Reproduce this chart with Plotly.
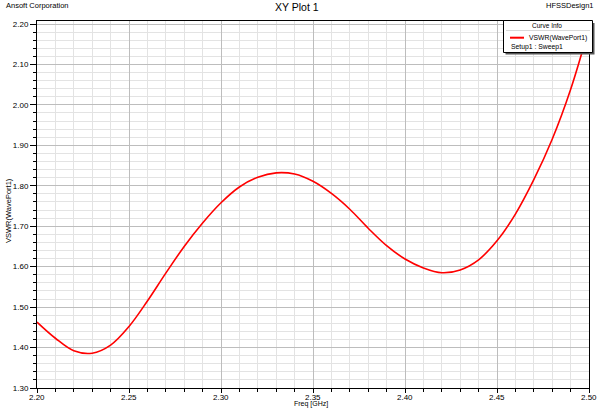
import plotly.graph_objects as go

freq = [2.20, 2.21, 2.22, 2.23, 2.24, 2.25, 2.26, 2.27, 2.28, 2.29, 2.30,
        2.31, 2.32, 2.33, 2.34, 2.35, 2.36, 2.37, 2.38, 2.39, 2.40,
        2.41, 2.42, 2.43, 2.44, 2.45, 2.46, 2.47, 2.48, 2.49, 2.50]
vswr = [1.463, 1.423, 1.392, 1.386, 1.406, 1.452, 1.515, 1.584, 1.650, 1.708, 1.758,
        1.797, 1.821, 1.832, 1.829, 1.811, 1.781, 1.742, 1.695, 1.652, 1.619,
        1.597, 1.585, 1.592, 1.617, 1.664, 1.730, 1.815, 1.915, 2.038, 2.190]

x_ticks = [2.20, 2.25, 2.30, 2.35, 2.40, 2.45, 2.50]
y_ticks = [1.30, 1.40, 1.50, 1.60, 1.70, 1.80, 1.90, 2.00, 2.10, 2.20]

FONT = "Liberation Sans, Arial, sans-serif"
W, H = 600, 409
L, R, T, B = 37, 589, 21, 388
Y_TOP = 2.20 + 3 / 404.4  # frame sits slightly above the 2.20 tick

def px(x):
    return (x - L) / (R - L)

def py(y):
    return (B - y) / (B - T)

fig = go.Figure()
fig.add_trace(go.Scatter(x=freq, y=vswr, mode="lines",
                         line=dict(color="#ff0000", width=1.6, shape="spline", smoothing=1.0),
                         showlegend=False))

axis_common = dict(showline=True, linecolor="black", linewidth=1, mirror=True, ticks="outside",
                   tickcolor="black", tickfont=dict(family=FONT, size=8, color="black"),
                   gridcolor="#bdbdbd", gridwidth=1, zeroline=False)

fig.update_xaxes(range=[2.20, 2.50], tickvals=x_ticks, showticklabels=False,
                 ticklen=4,
                 minor=dict(dtick=0.01, tick0=2.2, ticks="outside", ticklen=3, tickcolor="black",
                            showgrid=True, gridcolor="#e3e3e3", gridwidth=1),
                 **axis_common)
fig.update_yaxes(range=[1.30, Y_TOP], tickvals=y_ticks, ticktext=[f"{v:.2f}" for v in y_ticks],
                 ticklen=6, minor=dict(dtick=0.02, tick0=1.3, ticks="outside", ticklen=3, tickcolor="black",
                                       showgrid=True, gridcolor="#e3e3e3", gridwidth=1),
                 **axis_common)

def txt(text, x, y, size, anchor="center", angle=0):
    return dict(text=text, x=px(x), y=py(y), xref="paper", yref="paper", showarrow=False,
                textangle=angle, font=dict(family=FONT, size=size, color="black"),
                xanchor=anchor, yanchor="middle")

annotations = [
    txt("XY Plot 1", 296.5, 7.5, 10.5),
    txt("Ansoft Corporation", 4, 6, 7.5, "left"),
    txt("HFSSDesign1", 596, 6, 7.5, "right"),
    txt("Freq [GHz]", 311, 404, 7),
    txt("VSWR(WavePort1)", 8, 211, 7.5, angle=-90),
    txt("Curve Info", 547, 25.5, 6.5),
    txt("VSWR(WavePort1)", 527, 37.7, 6.8, "left"),
    txt("Setup1 : Sweep1", 509, 46.8, 6.8, "left"),
]
# x tick labels placed through the x axis scale
for v in x_ticks:
    annotations.append(dict(text=f"{v:.2f}", x=v, xref="x", y=py(397), yref="paper", showarrow=False,
                            font=dict(family=FONT, size=8, color="black"),
                            xanchor="center", yanchor="middle"))

shapes = [
    dict(type="rect", xref="paper", yref="paper", x0=px(505.5), x1=px(594.5), y0=py(54.5), y1=py(23),
         fillcolor="#555555", line=dict(width=0), layer="above"),
    dict(type="rect", xref="paper", yref="paper", x0=px(503.5), x1=px(592.5), y0=py(52.5), y1=py(20.5),
         fillcolor="white", line=dict(color="black", width=1), layer="above"),
    dict(type="line", xref="paper", yref="paper", x0=px(506), x1=px(590), y0=py(30.5), y1=py(30.5),
         line=dict(color="#d8d8d8", width=1), layer="above"),
    dict(type="line", xref="paper", yref="paper", x0=px(510), x1=px(524), y0=py(37.7), y1=py(37.7),
         line=dict(color="#ff0000", width=2), layer="above"),
]

fig.update_layout(width=W, height=H, margin=dict(l=L, r=W - R, t=T, b=H - B),
                  paper_bgcolor="white", plot_bgcolor="white",
                  annotations=annotations, shapes=shapes, showlegend=False)

fig.write_html("out.html", config={"displayModeBar": False},
               post_script="document.body.style.margin='0';document.body.style.overflow='hidden';")
